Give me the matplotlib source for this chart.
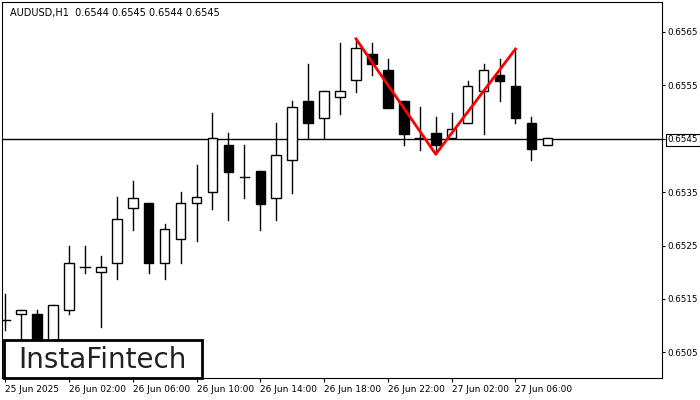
import matplotlib.pyplot as plt
from matplotlib.patches import Rectangle

opens = [0.65110, 0.65121, 0.65121, 0.65063, 0.65130, 0.65210, 0.65201, 0.65218, 0.65320,
         0.65330, 0.65218, 0.65262, 0.65330, 0.65350, 0.65439, 0.65378, 0.65389, 0.65339,
         0.65410, 0.65520, 0.65488, 0.65529, 0.65560, 0.65609, 0.65579, 0.65520, 0.65451,
         0.65460, 0.65451, 0.65480, 0.65539, 0.65570, 0.65549, 0.65480, 0.65439]
highs = [0.65160, 0.65130, 0.65130, 0.65139, 0.65249, 0.65249, 0.65231, 0.65341, 0.65371,
         0.65330, 0.65290, 0.65350, 0.65400, 0.65499, 0.65460, 0.65439, 0.65389, 0.65480,
         0.65520, 0.65590, 0.65540, 0.65630, 0.65637, 0.65630, 0.65600, 0.65520, 0.65510,
         0.65490, 0.65499, 0.65559, 0.65590, 0.65600, 0.65618, 0.65490, 0.65451]
lows = [0.65091, 0.65072, 0.65063, 0.65055, 0.65121, 0.65199, 0.65098, 0.65188, 0.65279,
        0.65199, 0.65188, 0.65218, 0.65259, 0.65318, 0.65298, 0.65339, 0.65279, 0.65298,
        0.65348, 0.65451, 0.65451, 0.65497, 0.65538, 0.65570, 0.65517, 0.65438, 0.65428,
        0.65421, 0.65451, 0.65480, 0.65458, 0.65520, 0.65479, 0.65410, 0.65439]
closes = [0.65110, 0.65130, 0.65063, 0.65139, 0.65218, 0.65210, 0.65210, 0.65300, 0.65339,
          0.65218, 0.65281, 0.65330, 0.65341, 0.65451, 0.65387, 0.65378, 0.65328, 0.65419,
          0.65510, 0.65479, 0.65540, 0.65540, 0.65620, 0.65590, 0.65508, 0.65458, 0.65451,
          0.65439, 0.65469, 0.65549, 0.65579, 0.65559, 0.65488, 0.65430, 0.65451]

current_price = 0.6545
pattern_idx = [22, 27, 32]
pattern_px = [0.65637, 0.65421, 0.65618]

price_ticks = [0.6505, 0.6515, 0.6525, 0.6535, 0.6545, 0.6555, 0.6565]
time_idx = [0, 4, 8, 12, 16, 20, 24, 28, 32]
time_labels = ["25 Jun 2025", "26 Jun 02:00", "26 Jun 06:00", "26 Jun 10:00", "26 Jun 14:00",
               "26 Jun 18:00", "26 Jun 22:00", "27 Jun 02:00", "27 Jun 06:00"]

fig = plt.figure(figsize=(7, 4), dpi=100)
ax = fig.add_axes([0.003, 0.055, 0.943, 0.94])

w = 0.6
for i, (o, h, l, c) in enumerate(zip(opens, highs, lows, closes)):
    ax.plot([i, i], [l, h], color="black", lw=1, zorder=2)
    lo, hi = min(o, c), max(o, c)
    face = "white" if c >= o else "black"
    if hi - lo < 0.00002:
        ax.plot([i - w / 2, i + w / 2], [o, o], color="black", lw=1, zorder=3)
    else:
        ax.add_patch(Rectangle((i - w / 2, lo), w, hi - lo, facecolor=face,
                               edgecolor="black", lw=1, zorder=3))

ax.axhline(current_price, color="black", lw=1, zorder=1)
ax.plot(pattern_idx, pattern_px, color="red", lw=2, zorder=4)

ax.set_xlim(-0.19, 41.2)
ax.set_ylim(0.65002, 0.65706)
ax.yaxis.tick_right()
ax.set_yticks(price_ticks)
ax.set_yticklabels([f"{p:.4f}" for p in price_ticks], fontsize=6.3)
ax.set_xticks(time_idx)
ax.set_xticklabels(time_labels, fontsize=6.5, ha="left")
ax.tick_params(axis="y", length=2.5, width=0.8, pad=1.5)
ax.tick_params(axis="x", length=3, width=0.8, pad=2)
ax.get_yticklabels()[4].set_bbox(dict(facecolor="white", edgecolor="black", pad=1.2, lw=0.8))
for s in ax.spines.values():
    s.set_linewidth(0.8)

ax.text(0.012, 0.985, "AUDUSD,H1  0.6544 0.6545 0.6544 0.6545", transform=ax.transAxes,
        fontsize=7, va="top", ha="left")

fig.add_artist(Rectangle((0.005, 0.055), 0.283, 0.095, transform=fig.transFigure,
                         facecolor="white", edgecolor="black", lw=2, zorder=10))
fig.text(0.147, 0.1, "InstaFintech", fontsize=20, color="#222222", ha="center", va="center",
         zorder=11)

fig.savefig("out.png", dpi=100)
